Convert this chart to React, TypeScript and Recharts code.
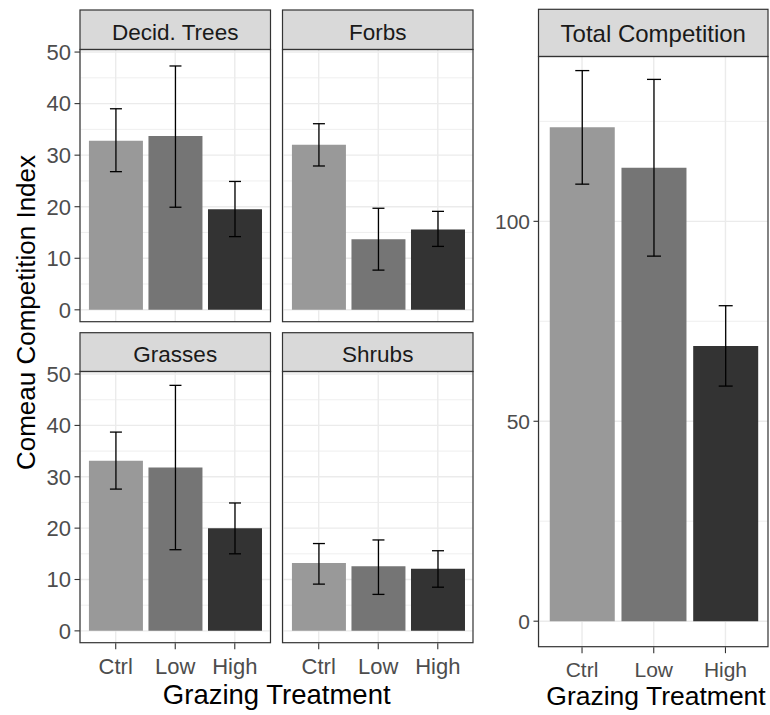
import React from "react";
import {
  BarChart,
  Bar,
  XAxis,
  YAxis,
  CartesianGrid,
  ErrorBar,
  Cell,
} from "recharts";

// grazing treatments (x categories)
const TREATMENTS = ["Ctrl", "Low", "High"];

// mean Comeau competition index per treatment, with lower / upper error bar ends
const DECID_MEAN = [32.8, 33.7, 19.5];
const DECID_LO = [26.8, 19.9, 14.2];
const DECID_HI = [39.0, 47.3, 24.9];

const FORBS_MEAN = [32.0, 13.7, 15.6];
const FORBS_LO = [27.9, 7.7, 12.3];
const FORBS_HI = [36.1, 19.7, 19.1];

const GRASS_MEAN = [33.1, 31.8, 20.0];
const GRASS_LO = [27.6, 15.8, 15.0];
const GRASS_HI = [38.7, 47.8, 24.9];

const SHRUB_MEAN = [13.2, 12.6, 12.1];
const SHRUB_LO = [9.1, 7.1, 8.5];
const SHRUB_HI = [17.0, 17.7, 15.6];

const TOTAL_MEAN = [123.5, 113.4, 68.8];
const TOTAL_LO = [109.3, 91.3, 58.8];
const TOTAL_HI = [137.7, 135.5, 78.9];

// axis breaks
const FACET_TICKS = [0, 10, 20, 30, 40, 50];
const FACET_MINOR = [5, 15, 25, 35, 45];
const TOTAL_TICKS = [0, 50, 100];
const TOTAL_MINOR = [25, 75, 125];

const FILLS = ["#999999", "#757575", "#333333"];
const FONT = '"Liberation Sans", Arial, sans-serif';
const GRID = "#EBEBEB";
const DARK = "#333333";

const makeRows = (mean: number[], lo: number[], hi: number[]) =>
  TREATMENTS.map((t, i) => ({
    treatment: t,
    mean: mean[i],
    err: [mean[i] - lo[i], hi[i] - mean[i]],
  }));

interface PanelProps {
  x: number;
  y: number;
  w: number;
  h: number;
  rows: { treatment: string; mean: number; err: number[] }[];
  domain: [number, number];
  ticks: number[];
  minor: number[];
  showY: boolean;
  showX: boolean;
  tickFont: number;
  yAxisW: number;
  xTickGap: number;
  whisker: number;
}

function Panel(p: PanelProps) {
  const YW = p.showY ? p.yAxisW : 0;
  const XH = p.showX ? 40 : 0;
  const M = 16; // room above the plot for the top tick label
  const pad = p.w / 32;
  return (
    <div
      style={{
        position: "absolute",
        left: p.x - YW,
        top: p.y - M,
        width: YW + p.w,
        height: p.h + XH + M,
      }}
    >
      <BarChart
        width={YW + p.w}
        height={p.h + XH + M}
        data={p.rows}
        margin={{ top: M, right: 0, bottom: 0, left: 0 }}
        barCategoryGap="5%"
      >
        <CartesianGrid
          stroke={GRID}
          strokeWidth={0.8}
          vertical={false}
          horizontalValues={p.minor}
        />
        <CartesianGrid
          stroke={GRID}
          strokeWidth={1.4}
          horizontalValues={p.ticks}
        />
        <XAxis
          dataKey="treatment"
          hide={!p.showX}
          height={XH}
          padding={{ left: pad, right: pad }}
          axisLine={false}
          tickSize={6}
          tickMargin={p.xTickGap}
          tickLine={{ stroke: DARK, strokeWidth: 1.1 }}
          tick={{ fill: "#4D4D4D", fontSize: p.tickFont, fontFamily: FONT }}
          interval={0}
        />
        <YAxis
          type="number"
          hide={!p.showY}
          width={YW}
          domain={p.domain}
          ticks={p.ticks}
          allowDataOverflow
          interval={0}
          axisLine={false}
          tickSize={5.5}
          tickMargin={3.5}
          tickLine={{ stroke: DARK, strokeWidth: 1.1 }}
          tick={{ fill: "#4D4D4D", fontSize: p.tickFont, fontFamily: FONT }}
        />
        <Bar dataKey="mean" isAnimationActive={false}>
          {p.rows.map((_, i) => (
            <Cell key={i} fill={FILLS[i % FILLS.length]} />
          ))}
          <ErrorBar
            dataKey="err"
            direction="y"
            width={p.whisker}
            stroke="#000000"
            strokeWidth={1.3}
            isAnimationActive={false}
          />
        </Bar>
      </BarChart>
    </div>
  );
}

const FACET_DOMAIN: [number, number] = [-2.4, 50.4];
const TOTAL_DOMAIN: [number, number] = [-6.5, 141.1];

export default function App() {
  const LW = 190.5;
  return (
    <div
      style={{
        position: "absolute",
        left: 0,
        top: 0,
        width: 770,
        height: 715,
        background: "#ffffff",
        overflow: "hidden",
      }}
    >
      <Panel x={80} y={49.5} w={LW} h={272.2} rows={makeRows(DECID_MEAN, DECID_LO, DECID_HI)}
        domain={FACET_DOMAIN} ticks={FACET_TICKS} minor={FACET_MINOR}
        showY showX={false} tickFont={22} yAxisW={60} xTickGap={9.5} whisker={6} />
      <Panel x={282.5} y={49.5} w={LW} h={272.2} rows={makeRows(FORBS_MEAN, FORBS_LO, FORBS_HI)}
        domain={FACET_DOMAIN} ticks={FACET_TICKS} minor={FACET_MINOR}
        showY={false} showX={false} tickFont={22} yAxisW={60} xTickGap={9.5} whisker={6} />
      <Panel x={80} y={371.5} w={LW} h={271.2} rows={makeRows(GRASS_MEAN, GRASS_LO, GRASS_HI)}
        domain={FACET_DOMAIN} ticks={FACET_TICKS} minor={FACET_MINOR}
        showY showX tickFont={22} yAxisW={60} xTickGap={9.5} whisker={6} />
      <Panel x={282.5} y={371.5} w={LW} h={271.2} rows={makeRows(SHRUB_MEAN, SHRUB_LO, SHRUB_HI)}
        domain={FACET_DOMAIN} ticks={FACET_TICKS} minor={FACET_MINOR}
        showY={false} showX tickFont={22} yAxisW={60} xTickGap={9.5} whisker={6} />
      <Panel x={538.5} y={56.5} w={229.5} h={590.2} rows={makeRows(TOTAL_MEAN, TOTAL_LO, TOTAL_HI)}
        domain={TOTAL_DOMAIN} ticks={TOTAL_TICKS} minor={TOTAL_MINOR}
        showY showX tickFont={21} yAxisW={50} xTickGap={8.5} whisker={7} />

      <svg
        width={770}
        height={715}
        style={{ position: "absolute", left: 0, top: 0, pointerEvents: "none" }}
        fontFamily={FONT}
      >
        {/* strips */}
        <rect x={80} y={10} width={LW} height={39.5} fill="#D9D9D9" stroke={DARK} strokeWidth={1.2} />
        <rect x={282.5} y={10} width={LW} height={39.5} fill="#D9D9D9" stroke={DARK} strokeWidth={1.2} />
        <rect x={80} y={332.7} width={LW} height={38.8} fill="#D9D9D9" stroke={DARK} strokeWidth={1.2} />
        <rect x={282.5} y={332.7} width={LW} height={38.8} fill="#D9D9D9" stroke={DARK} strokeWidth={1.2} />
        <rect x={538.5} y={9.3} width={229.5} height={47.2} fill="#D9D9D9" stroke={DARK} strokeWidth={1.2} />
        <g fill="#1A1A1A" textAnchor="middle">
          <text x={80 + LW / 2} y={40} fontSize={22.5}>Decid. Trees</text>
          <text x={282.5 + LW / 2} y={40} fontSize={22.5}>Forbs</text>
          <text x={80 + LW / 2} y={361.7} fontSize={22.5}>Grasses</text>
          <text x={282.5 + LW / 2} y={361.7} fontSize={22.5}>Shrubs</text>
          <text x={538.5 + 229.5 / 2} y={41.7} fontSize={24}>Total Competition</text>
        </g>
        {/* panel borders */}
        <g fill="none" stroke={DARK} strokeWidth={1.2}>
          <rect x={80} y={49.5} width={LW} height={272.2} />
          <rect x={282.5} y={49.5} width={LW} height={272.2} />
          <rect x={80} y={371.5} width={LW} height={271.2} />
          <rect x={282.5} y={371.5} width={LW} height={271.2} />
          <rect x={538.5} y={56.5} width={229.5} height={590.2} />
        </g>
        {/* axis titles */}
        <g fill="#000000" textAnchor="middle">
          <text x={-312.5} y={35} fontSize={26} transform="rotate(-90)">
            Comeau Competition Index
          </text>
          <text x={276.7} y={704} fontSize={27.5}>Grazing Treatment</text>
          <text x={656} y={705} fontSize={26.5}>Grazing Treatment</text>
        </g>
      </svg>
    </div>
  );
}
